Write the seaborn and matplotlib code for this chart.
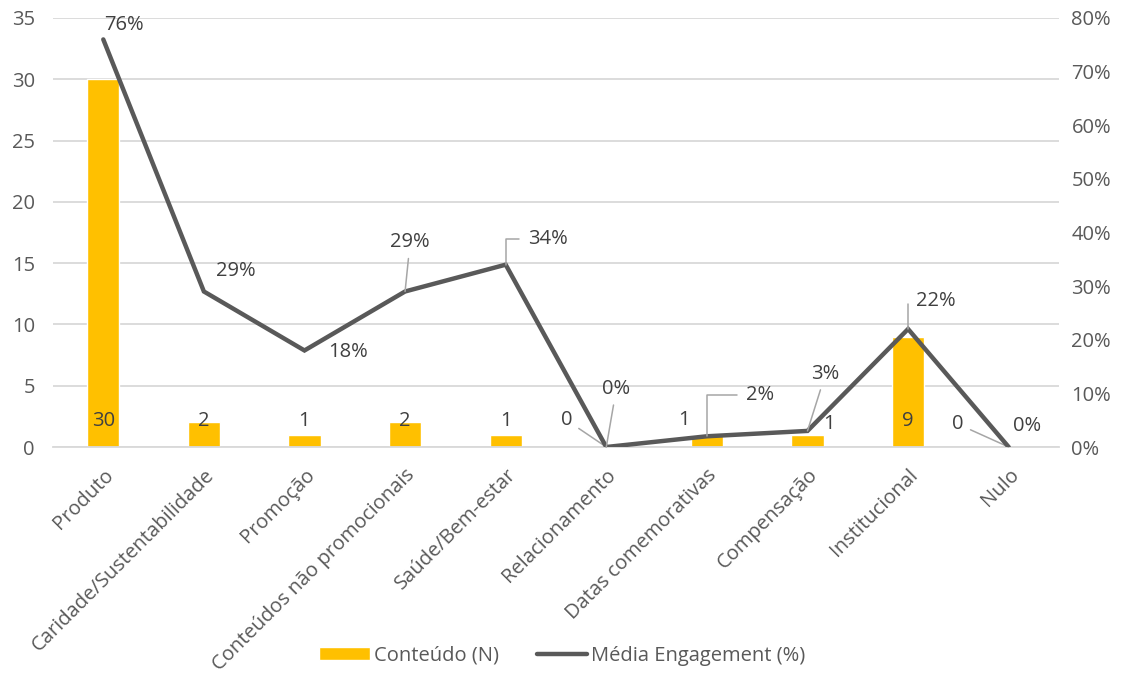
import numpy as np
import pandas as pd
import matplotlib
matplotlib.use("Agg")
import matplotlib.pyplot as plt
import seaborn as sns
from matplotlib.ticker import PercentFormatter

categorias = ["Produto", "Caridade/Sustentabilidade", "Promoção",
              "Conteúdos não promocionais", "Saúde/Bem-estar", "Relacionamento",
              "Datas comemorativas", "Compensação", "Institucional", "Nulo"]
conteudo_n = [30, 2, 1, 2, 1, 0, 1, 1, 9, 0]
engagement_pct = [76, 29, 18, 29, 34, 0, 2, 3, 22, 0]

# label placement (offsets in pixels from each mark) and leader-line style
line_label_offsets = [(21, 14), (32, 20), (44, -2), (5, 49), (42, 26),
                      (10, 58), (53, 41), (18, 57), (28, 28), (18, 21)]
line_label_leader = [None, None, None, "straight", "elbow",
                     "straight", "elbow", "straight", "elbow", None]
bar_label_offsets = [(0, 26), (0, 26), (0, 26), (0, 26), (0, 26),
                     (-40, 27), (-23, 27), (22, 23), (0, 26), (-51, 23)]
bar_label_leader = [False] * 5 + [True, False, False, False, True]

sns.set_theme(style="white")
plt.rcParams["font.family"] = ["Open Sans", "DejaVu Sans"]

FS = 14.5
TXT = "#595959"
LBL = "#404040"
GRID = "#D9D9D9"
BAR = "#FFC000"
LINE = "#595959"
LEAD = "#A6A6A6"

df = pd.DataFrame({"cat": categorias, "n": conteudo_n,
                   "eng": np.array(engagement_pct) / 100.0})
x = np.arange(len(categorias))

fig = plt.figure(figsize=(11.32, 6.78), dpi=100)
ax = fig.add_axes([0.0468, 0.3407, 0.8887, 0.6328])

sns.barplot(data=df, x="cat", y="n", color=BAR, width=0.32, saturation=1,
            ax=ax, label="Conteúdo (N)", zorder=2)
if ax.get_legend() is not None:
    ax.get_legend().remove()
ax.set_ylim(0, 35)
ax.set_yticks(np.arange(0, 36, 5))
ax.set_xlim(-0.5, len(categorias) - 0.5)
ax.yaxis.grid(True, color=GRID, linewidth=1.3, zorder=0)
ax.set_axisbelow(True)
for s in ["top", "right", "left"]:
    ax.spines[s].set_visible(False)
ax.spines["bottom"].set_color(GRID)
ax.spines["bottom"].set_linewidth(1.3)
ax.set_xlabel("")
ax.set_ylabel("")
ax.tick_params(axis="y", colors=TXT, labelsize=FS, length=0, pad=13)
ax.tick_params(axis="x", colors=TXT, labelsize=FS, length=0, pad=13)
ax.set_xticks(x)
ax.set_xticklabels(categorias, rotation=45, ha="right", rotation_mode="anchor")

ax2 = ax.twinx()
sns.lineplot(x=x, y=df["eng"], color=LINE, linewidth=3.2, ax=ax2,
             label="Média Engagement (%)", legend=False,
             solid_joinstyle="miter", zorder=3)
ax2.set_ylim(0, 0.8)
ax2.set_yticks(np.arange(0, 0.81, 0.1))
ax2.yaxis.set_major_formatter(PercentFormatter(1.0, decimals=0))
ax2.tick_params(axis="y", colors=TXT, labelsize=FS, length=0, pad=9)
for s in ["top", "right", "left", "bottom"]:
    ax2.spines[s].set_visible(False)
ax2.set_ylabel("")

# bar value labels
for i, v in enumerate(conteudo_n):
    dx, dy = bar_label_offsets[i]
    kw = {}
    if bar_label_leader[i]:
        kw["arrowprops"] = dict(arrowstyle="-", color=LEAD, lw=1.1,
                                shrinkA=3, shrinkB=0)
    ax.annotate(f"{v}", xy=(i, 0), xytext=(dx, dy), textcoords="offset pixels",
                ha="center", va="center", color=LBL, fontsize=FS,
                zorder=5, annotation_clip=False, **kw)

# line value labels
for i, v in enumerate(engagement_pct):
    dx, dy = line_label_offsets[i]
    kw = {}
    if line_label_leader[i] == "straight":
        kw["arrowprops"] = dict(arrowstyle="-", color=LEAD, lw=1.1,
                                shrinkA=2, shrinkB=0)
    elif line_label_leader[i] == "elbow":
        kw["arrowprops"] = dict(arrowstyle="-", color=LEAD, lw=1.1,
                                shrinkA=4, shrinkB=0,
                                connectionstyle="angle,angleA=0,angleB=90,rad=0")
    ax2.annotate(f"{v}%", xy=(i, v / 100.0), xytext=(dx, dy),
                 textcoords="offset pixels", ha="center", va="center",
                 color=LBL, fontsize=FS, zorder=6,
                 annotation_clip=False, **kw)

# legend at the bottom
h1, l1 = ax.get_legend_handles_labels()
h2, l2 = ax2.get_legend_handles_labels()
fig.legend(h1 + h2, l1 + l2, loc="center", bbox_to_anchor=(0.497, 0.033),
           ncol=2, frameon=False, fontsize=FS, labelcolor=TXT,
           handlelength=2.5, handleheight=0.6, handletextpad=0.2,
           columnspacing=1.9)

fig.savefig("out.png", dpi=100, facecolor="white")
